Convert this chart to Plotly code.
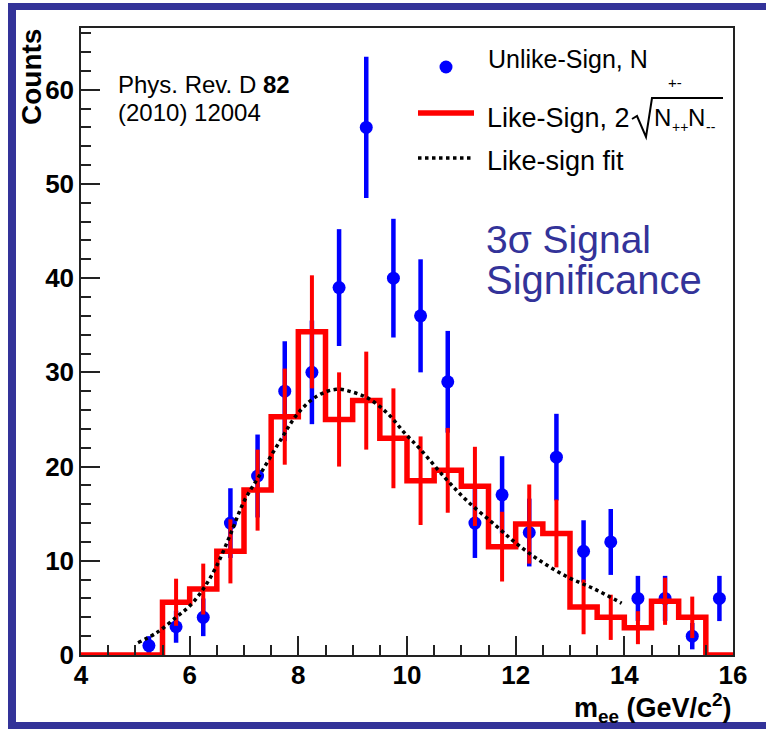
import plotly.graph_objects as go

# ---- data -------------------------------------------------------------
# bin centres (0.5 GeV/c^2 bins)
unlike_x = [5.25, 5.75, 6.25, 6.75, 7.25, 7.75, 8.25, 8.75, 9.25, 9.75, 10.25,
            10.75, 11.25, 11.75, 12.25, 12.75, 13.25, 13.75, 14.25, 14.75, 15.25, 15.75]
unlike_n = [1, 3, 4, 14, 19, 28, 30, 39, 56, 40, 36, 29, 14, 17, 13, 21, 11, 12, 6, 6, 2, 6]
unlike_err = [1.0, 1.7, 2.0, 3.7, 4.4, 5.3, 5.5, 6.2, 7.5, 6.3, 6.0, 5.4, 3.7, 4.1,
              3.6, 4.6, 3.3, 3.5, 2.4, 2.4, 1.4, 2.4]

# like-sign histogram: left bin edges 4.0 ... 15.5
like_edges = [4.0, 4.5, 5.0, 5.5, 6.0, 6.5, 7.0, 7.5, 8.0, 8.5, 9.0, 9.5, 10.0, 10.5,
              11.0, 11.5, 12.0, 12.5, 13.0, 13.5, 14.0, 14.5, 15.0, 15.5]
like_val = [0, 0, 0, 5.6, 7.0, 11.0, 17.5, 25.3, 34.3, 25.0, 27.0, 23.0, 18.5, 19.6,
            17.9, 11.5, 13.9, 12.9, 5.1, 4.0, 2.9, 5.7, 4.0, 0]
like_err_x = [5.75, 6.25, 6.75, 7.25, 7.75, 8.25, 8.75, 9.25, 9.75, 10.25, 10.75,
              11.25, 11.75, 12.25, 12.75, 13.25, 13.75, 14.25, 14.75, 15.25]
like_err_y = [5.6, 7.0, 11.0, 17.5, 25.3, 34.3, 25.0, 27.0, 23.0, 18.5, 19.6,
              17.9, 11.5, 13.9, 12.9, 5.1, 4.0, 2.9, 5.7, 4.0]
like_err = [2.5, 2.7, 3.4, 4.3, 5.1, 6.0, 5.0, 5.2, 5.3, 4.7, 4.5,
            4.2, 3.7, 4.2, 3.6, 2.9, 2.4, 1.75, 2.5, 2.2]

# like-sign fit curve
fit_x = [5.05, 5.4, 5.75, 6.0, 6.25, 6.5, 6.75, 7.0, 7.3, 7.65, 8.0, 8.35, 8.7, 9.0,
         9.3, 9.65, 9.95, 10.25, 10.7, 11.1, 11.6, 12.0, 12.45, 12.95, 13.45, 13.95]
fit_y = [1.3, 2.4, 4.0, 5.2, 7.0, 9.5, 12.8, 16.3, 19.2, 22.6, 25.7, 27.5, 28.2, 27.9,
         27.2, 25.6, 23.6, 21.8, 18.8, 16.4, 13.9, 11.9, 10.0, 8.3, 7.0, 5.5]

x_ticks = [4, 6, 8, 10, 12, 14, 16]
y_ticks = [0, 10, 20, 30, 40, 50, 60]

# ---- layout geometry (pixels) -----------------------------------------
W, H = 766, 730
L, R, T, B = 81, 33, 28, 75
PW, PH = W - L - R, H - T - B
YMAX = 66.55

FONT = "Liberation Sans, Arial, Helvetica, sans-serif"
NAVY = "#333399"


def px(x):
    return (x - L) / PW


def py(y):
    return (H - B - y) / PH


fig = go.Figure()

fig.add_trace(go.Scatter(
    x=unlike_x, y=unlike_n, mode="markers",
    marker=dict(color="#0000ff", size=13, line=dict(width=0)),
    error_y=dict(type="data", array=unlike_err, color="#0000ff", thickness=4.5, width=0),
    showlegend=False, hoverinfo="skip"))

fig.add_trace(go.Scatter(
    x=like_edges + [16.0], y=like_val + [like_val[-1]], mode="lines",
    line=dict(color="#ff0000", width=5.5, shape="hv"),
    showlegend=False, hoverinfo="skip"))

fig.add_trace(go.Scatter(
    x=like_err_x, y=like_err_y, mode="markers",
    marker=dict(color="#ff0000", size=1, opacity=0),
    error_y=dict(type="data", array=like_err, color="#ff0000", thickness=4, width=0),
    showlegend=False, hoverinfo="skip"))

fig.add_trace(go.Scatter(
    x=fit_x, y=fit_y, mode="lines",
    line=dict(color="black", width=3.5, dash="dot", shape="spline", smoothing=1.0),
    showlegend=False, hoverinfo="skip"))

axis_common = dict(
    showgrid=False, zeroline=False, showline=True, mirror=True,
    linecolor="#222222", linewidth=1.5,
    ticks="inside", tickcolor="#222222", tickwidth=1.5, ticklen=19,
    tickfont=dict(family=FONT, size=26, color="black", weight="bold"),
)

fig.update_xaxes(range=[4, 16], tickvals=x_ticks, ticktext=[str(v) for v in x_ticks],
                 ticklabelstandoff=-4,
                 minor=dict(dtick=0.5, tick0=4, ticks="inside", ticklen=10,
                            tickcolor="#222222", tickwidth=1.5),
                 **axis_common)
fig.update_yaxes(range=[0, YMAX], tickvals=y_ticks, ticktext=[str(v) for v in y_ticks],
                 minor=dict(dtick=2, tick0=0, ticks="inside", ticklen=10,
                            tickcolor="#222222", tickwidth=1.5),
                 **axis_common)

shapes = []
# outer navy frame (top, left, bottom bars)
shapes.append(dict(type="rect", xref="paper", yref="paper", x0=px(8), x1=px(W + 5),
                   y0=py(10), y1=py(3), fillcolor=NAVY, line=dict(width=0), layer="above"))
shapes.append(dict(type="rect", xref="paper", yref="paper", x0=px(8), x1=px(16),
                   y0=py(729), y1=py(3), fillcolor=NAVY, line=dict(width=0), layer="above"))
shapes.append(dict(type="rect", xref="paper", yref="paper", x0=px(8), x1=px(W + 5),
                   y0=py(729), y1=py(722), fillcolor=NAVY, line=dict(width=0), layer="above"))

# legend symbols
shapes.append(dict(type="circle", xref="paper", yref="paper",
                   x0=px(439.5), x1=px(452.5), y0=py(73.5), y1=py(60.5),
                   fillcolor="#0000ff", line=dict(width=0)))
shapes.append(dict(type="line", xref="paper", yref="paper",
                   x0=px(418), x1=px(474), y0=py(113), y1=py(113),
                   line=dict(color="#ff0000", width=5.5)))
shapes.append(dict(type="line", xref="paper", yref="paper",
                   x0=px(418), x1=px(474), y0=py(158), y1=py(158),
                   line=dict(color="black", width=3.5, dash="dot")))
# radical sign over N++N--
rad = [(632, 119), (637, 116), (646, 137), (652, 98), (723, 98)]
path = "M " + " L ".join(f"{px(a)},{py(b)}" for a, b in rad)
shapes.append(dict(type="path", xref="paper", yref="paper", path=path,
                   line=dict(color="black", width=2)))

ann = []


def text(x, y, s, size, color="black", xanchor="left", bold=False, **kw):
    ann.append(dict(x=px(x), y=py(y), xref="paper", yref="paper", text=s,
                    showarrow=False, xanchor=xanchor, yanchor="middle",
                    font=dict(family=FONT, size=size, color=color,
                              weight="bold" if bold else "normal"), **kw))


text(486, 59, "Unlike-Sign, N", 25)
text(666, 82, "+-", 15)
text(485, 118, "Like-Sign, 2", 27)
text(652, 118, "N", 24)
text(670, 127, "++", 14)
text(686, 118, "N", 24)
text(704, 127, "--", 14)
text(485, 161, "Like-sign fit", 27)

text(116, 84, "Phys. Rev. D <b>82</b>", 24)
text(116, 113, "(2010) 12004", 24)

text(484, 239, "3σ Signal", 39, color=NAVY)
text(484, 280, "Significance", 40, color=NAVY)

text(31, 77, "Counts", 28, bold=True, xanchor="center", textangle=-90)
text(734, 708, "m<sub>ee</sub> (GeV/c<sup>2</sup>)", 27, bold=True, xanchor="right")

fig.update_layout(
    width=W, height=H, margin=dict(l=L, r=R, t=T, b=B, pad=0),
    paper_bgcolor="white", plot_bgcolor="white",
    shapes=shapes, annotations=ann, showlegend=False,
)

fig.write_html("out.html", config={"displayModeBar": False})
